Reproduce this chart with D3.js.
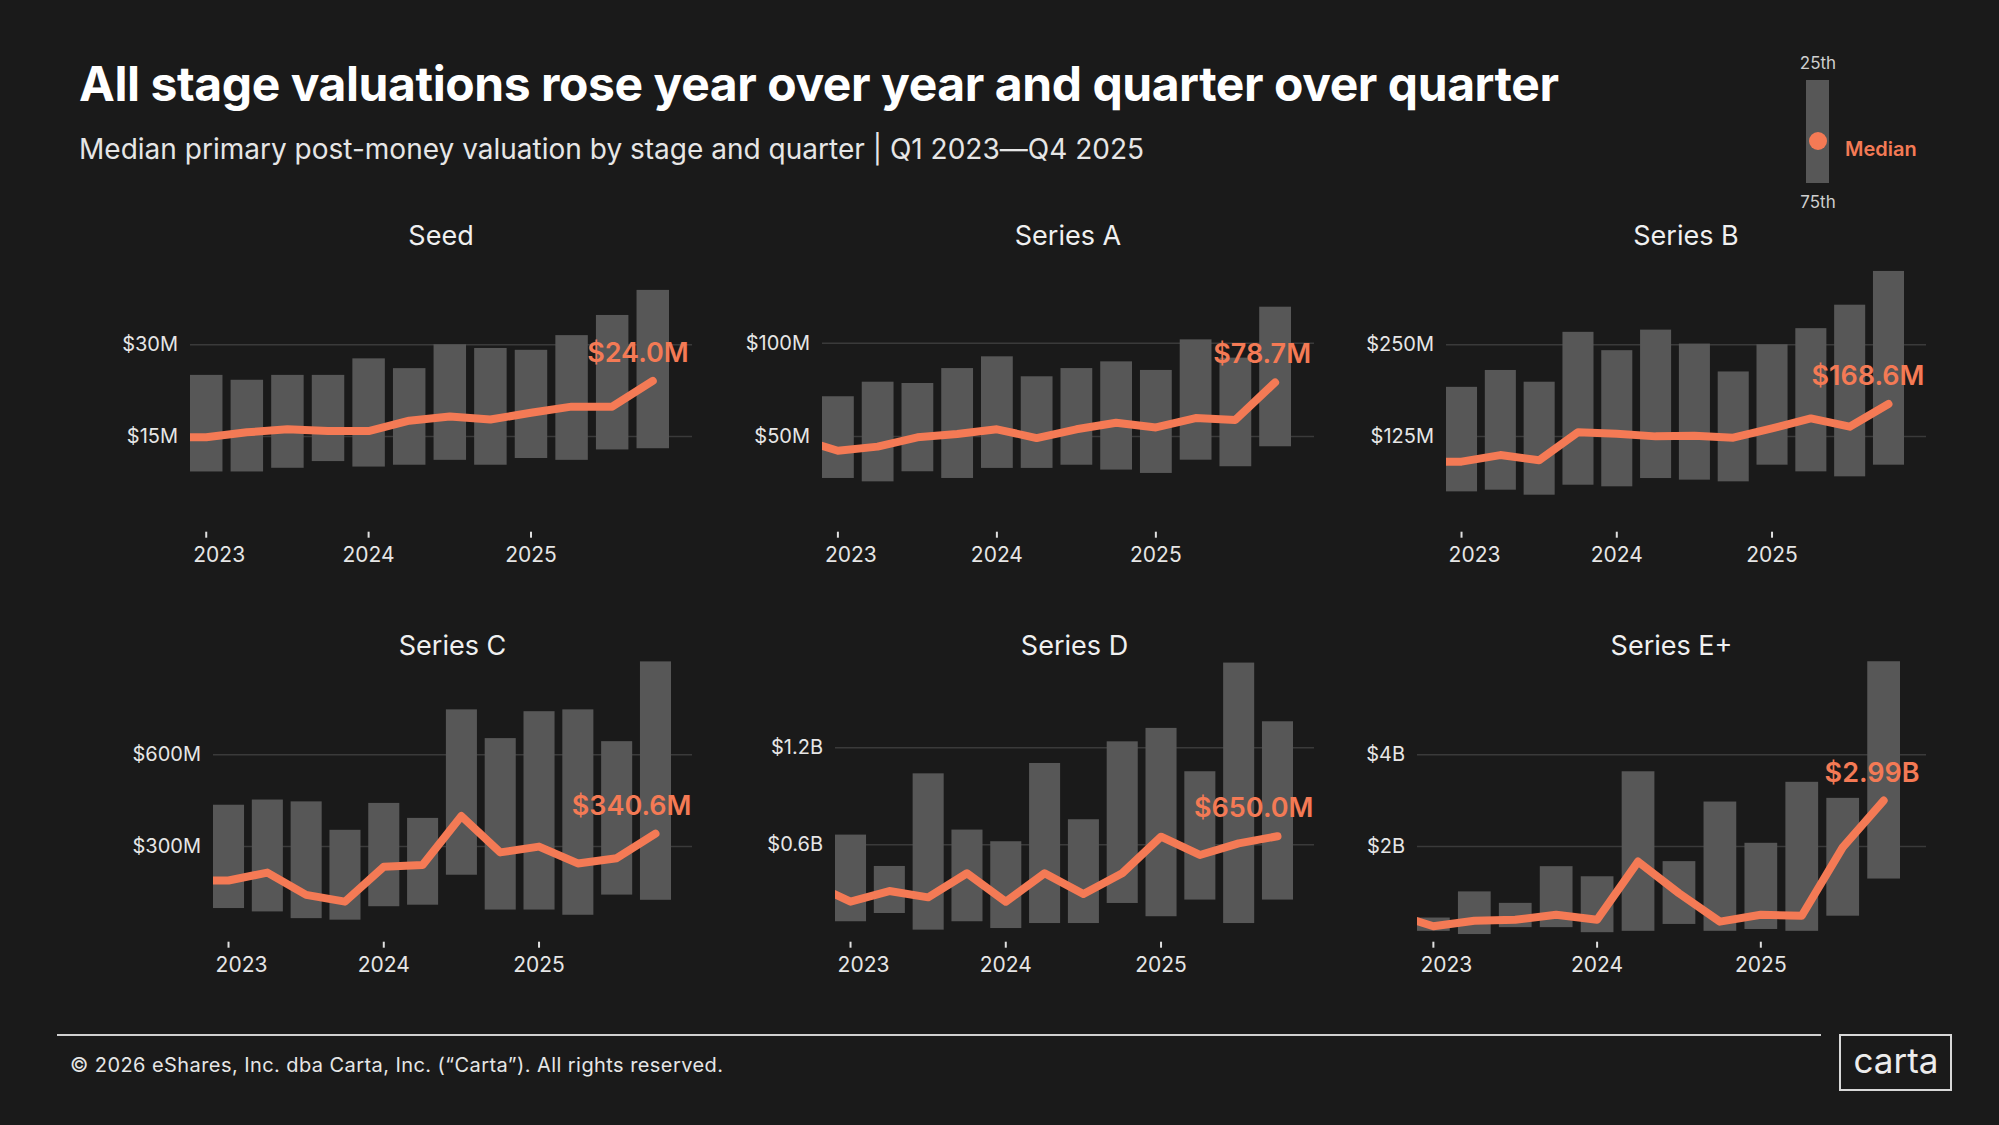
<!DOCTYPE html>
<html>
<head>
<meta charset="utf-8">
<script src="https://cdn.jsdelivr.net/npm/d3@7"></script>
<style>
  body { margin: 0; background: #1a1a1a; }
  svg { display: block; font-family: Inter, "Noto Sans", sans-serif; }
</style>
</head>
<body>
<div id="chart"></div>
<script>
//-------------------- Data --------------------
var quarters = ["Q1 2023", "Q2 2023", "Q3 2023", "Q4 2023",
    "Q1 2024", "Q2 2024", "Q3 2024", "Q4 2024",
    "Q1 2025", "Q2 2025", "Q3 2025", "Q4 2025"];
var yearTicks = ["Q1 2023", "Q1 2024", "Q1 2025"];

var stages = ["Seed", "Series A", "Series B", "Series C", "Series D", "Series E+"];
// Seed..Series C in $M, Series D and E+ in $B
var units = ["M", "M", "M", "M", "B", "B"];
var tickValues = [[15, 30], [50, 100], [125, 250], [300, 600], [0.6, 1.2], [2, 4]];
var tickLabels = [["$15M", "$30M"], ["$50M", "$100M"], ["$125M", "$250M"],
    ["$300M", "$600M"], ["$0.6B", "$1.2B"], ["$2B", "$4B"]];

// 25th percentile (upper end of the bar)
var seedHigh = [25.0, 24.2, 25.0, 25.0, 27.7, 26.1, 30.0, 29.4, 29.1, 31.5, 34.8, 38.9];
var seriesAHigh = [71.3, 79.1, 78.4, 86.4, 92.7, 82.0, 86.4, 90.0, 85.4, 101.8, 92.0, 119.3];
var seriesBHigh = [192, 215, 199, 267, 242, 270, 251, 213, 250, 272, 304, 350];
var seriesCHigh = [435, 452, 446, 353, 441, 392, 747, 653, 741, 747, 643, 904];
var seriesDHigh = [0.66, 0.466, 1.039, 0.691, 0.619, 1.103, 0.755, 1.237, 1.32, 1.052, 1.724, 1.361];
var seriesEHigh = [0.44, 1.01, 0.76, 1.56, 1.34, 3.63, 1.67, 2.97, 2.07, 3.40, 3.05, 6.03];

// 75th percentile (lower end of the bar)
var seedLow = [9.2, 9.2, 9.8, 10.9, 10.0, 10.3, 11.1, 10.3, 11.4, 11.1, 12.8, 13.0];
var seriesALow = [27.5, 25.7, 31.1, 27.5, 32.9, 32.9, 34.6, 32.0, 30.2, 37.3, 33.8, 44.5];
var seriesBLow = [49.5, 51.8, 45, 58.6, 56.4, 67.7, 65.5, 63.2, 85.9, 76.8, 70, 85.9];
var seriesCLow = [97, 86, 64, 59, 103, 108, 206, 92, 92, 75, 141, 124];
var seriesDLow = [0.124, 0.175, 0.072, 0.124, 0.082, 0.113, 0.113, 0.237, 0.155, 0.258, 0.113, 0.258];
var seriesELow = [0.15, 0.08, 0.23, 0.23, 0.12, 0.15, 0.30, 0.15, 0.19, 0.15, 0.48, 1.29];

// Medians
var seedMedian = [14.8, 15.6, 16.1, 15.8, 15.8, 17.5, 18.2, 17.7, 18.8, 19.8, 19.8, 24.0];
var seriesAMedian = [42.1, 44.3, 49.3, 51.1, 53.6, 48.9, 53.6, 57.1, 54.6, 59.6, 58.6, 78.7];
var seriesBMedian = [90, 99, 92, 130, 128, 124.5, 125.5, 122.7, 135.5, 149, 137.7, 168.6];
var seriesCMedian = [187, 213, 140, 118, 232, 238, 398, 279, 298, 243, 260, 340.6];
var seriesDMedian = [0.245, 0.311, 0.272, 0.421, 0.245, 0.421, 0.293, 0.421, 0.647, 0.534, 0.606, 0.650];
var seriesEMedian = [0.25, 0.37, 0.39, 0.50, 0.39, 1.66, 0.97, 0.35, 0.50, 0.48, 1.97, 2.99];

// Q4 2022 median, only the clipped lead-in of the line shows
var priorMedian = [14.8, 48.6, 90, 187, 0.357, 0.53];

var highs = [seedHigh, seriesAHigh, seriesBHigh, seriesCHigh, seriesDHigh, seriesEHigh];
var lows = [seedLow, seriesALow, seriesBLow, seriesCLow, seriesDLow, seriesELow];
var medians = [seedMedian, seriesAMedian, seriesBMedian, seriesCMedian, seriesDMedian, seriesEMedian];

//-------------------- Layout --------------------
// x0/x1 = bar range, gx1 = end of gridline, y0 = zero line, yT = pixel of the top tick,
// ty = title baseline, ay = top of the year ticks
var panels = [
    { x0: 190, x1: 669, gx1: 692, y0: 527.7, yT: 344.3, ty: 245, ay: 531.7 },
    { x0: 822, x1: 1291, gx1: 1314, y0: 529.3, yT: 342.7, ty: 245, ay: 531.7 },
    { x0: 1446, x1: 1904, gx1: 1926, y0: 527.7, yT: 344.3, ty: 245, ay: 531.7 },
    { x0: 213, x1: 671, gx1: 692, y0: 937.7, yT: 754.3, ty: 655, ay: 941.7 },
    { x0: 835, x1: 1293, gx1: 1314, y0: 941.3, yT: 747.3, ty: 655, ay: 941.7 },
    { x0: 1417, x1: 1900, gx1: 1926, y0: 937.7, yT: 754.3, ty: 655, ay: 941.7 }
];

var width = 1999;
var height = 1125;
var orange = "#f47a55";
var barGrey = "#575757";
var textCol = "#e6e6e6";

var svg = d3
    .select("#chart")
    .append("svg")
    .attr("width", width)
    .attr("height", height);

svg.append("rect")
    .attr("width", width)
    .attr("height", height)
    .attr("fill", "#1a1a1a");

// squeeze or stretch letter spacing so a text hits the width seen in the picture
function fitText(sel, target) {
    var n = sel.text().length;
    var natural = sel.node().getComputedTextLength();
    sel.attr("letter-spacing", ((target - natural) / (n - 1)).toFixed(3));
}

//-------------------- Header --------------------
svg.append("text")
    .attr("x", 79)
    .attr("y", 101)
    .attr("fill", "#ffffff")
    .attr("font-size", 48)
    .attr("font-weight", 700)
    .text("All stage valuations rose year over year and quarter over quarter")
    .call(fitText, 1480);

svg.append("text")
    .attr("x", 79)
    .attr("y", 159)
    .attr("fill", textCol)
    .attr("font-size", 28)
    .text("Median primary post-money valuation by stage and quarter | Q1 2023\u2014Q4 2025")
    .call(fitText, 1065);

// Legend
var legend = svg.append("g");
legend.append("rect")
    .attr("x", 1806)
    .attr("y", 80)
    .attr("width", 23)
    .attr("height", 103)
    .attr("fill", barGrey);
legend.append("circle")
    .attr("cx", 1818)
    .attr("cy", 141)
    .attr("r", 9)
    .attr("fill", orange);
legend.append("text")
    .attr("x", 1818).attr("y", 69)
    .attr("text-anchor", "middle")
    .attr("font-size", 17)
    .attr("fill", "#cfcfcf")
    .text("25th");
legend.append("text")
    .attr("x", 1818).attr("y", 208)
    .attr("text-anchor", "middle")
    .attr("font-size", 17)
    .attr("fill", "#cfcfcf")
    .text("75th");
legend.append("text")
    .attr("x", 1845).attr("y", 156)
    .attr("font-size", 20)
    .attr("font-weight", 600)
    .attr("fill", orange)
    .text("Median");

//-------------------- Panels --------------------
function fmtValue(v, unit) {
    if (unit === "B" && v < 1) return "$" + (v * 1000).toFixed(1) + "M";
    if (unit === "B") return "$" + v.toFixed(2) + "B";
    return "$" + v.toFixed(1) + "M";
}

stages.forEach(function(stage, i) {
    var p = panels[i];
    var g = svg.append("g").attr("class", "panel");

    var x = d3.scaleBand()
        .domain(quarters)
        .range([p.x0, p.x1])
        .paddingInner(0.2)
        .paddingOuter(0);

    var y = d3.scaleLinear()
        .domain([0, tickValues[i][1]])
        .range([p.y0, p.yT]);

    // Stage title
    g.append("text")
        .attr("x", (p.x0 + p.gx1) / 2)
        .attr("y", p.ty)
        .attr("text-anchor", "middle")
        .attr("font-size", 27)
        .attr("fill", "#f0f0f0")
        .text(stage);

    // Gridlines + value labels
    var yAxis = d3.axisLeft(y)
        .tickValues(tickValues[i])
        .tickFormat(function(d, k) { return tickLabels[i][k]; })
        .tickSize(-(p.gx1 - p.x0))
        .tickPadding(12);
    var ya = g.append("g")
        .attr("transform", "translate(" + p.x0 + ",0)")
        .call(yAxis);
    ya.select(".domain").remove();
    ya.selectAll(".tick line")
        .attr("stroke", "#3a3a3a")
        .attr("stroke-width", 1.5);
    ya.selectAll(".tick text")
        .attr("fill", textCol)
        .attr("font-size", 20)
        .attr("font-family", "Inter, sans-serif");

    // Interquartile bars
    g.selectAll("rect.bar")
        .data(quarters)
        .enter()
        .append("rect")
        .attr("class", "bar")
        .attr("x", function(q) { return x(q); })
        .attr("width", x.bandwidth())
        .attr("y", function(q, k) { return y(highs[i][k]); })
        .attr("height", function(q, k) { return y(lows[i][k]) - y(highs[i][k]); })
        .attr("fill", barGrey);

    // Year axis
    var xAxis = d3.axisBottom(x)
        .tickValues(yearTicks)
        .tickFormat(function(q) { return q.slice(3); })
        .tickSize(6)
        .tickPadding(9);
    var xa = g.append("g")
        .attr("transform", "translate(0," + p.ay + ")")
        .call(xAxis);
    xa.select(".domain").remove();
    xa.selectAll(".tick line")
        .attr("stroke", "#e0e0e0")
        .attr("stroke-width", 2);
    xa.selectAll(".tick text")
        .attr("fill", textCol)
        .attr("font-size", 21)
        .attr("font-family", "Inter, sans-serif")
        .attr("dx", function(d, k) { return k === 0 ? 13 : 0; });

    // Median line, lead-in from Q4 2022 clipped at the left edge
    var clipId = "clip" + i;
    svg.append("clipPath")
        .attr("id", clipId)
        .append("rect")
        .attr("x", p.x0)
        .attr("y", 0)
        .attr("width", p.gx1 - p.x0 + 40)
        .attr("height", height);

    var half = x.bandwidth() / 2;
    var pts = [[x(quarters[0]) - x.step() + half, y(priorMedian[i])]];
    quarters.forEach(function(q, k) {
        pts.push([x(q) + half, y(medians[i][k])]);
    });

    g.append("path")
        .datum(pts)
        .attr("clip-path", "url(#" + clipId + ")")
        .attr("d", d3.line())
        .attr("fill", "none")
        .attr("stroke", orange)
        .attr("stroke-width", 8)
        .attr("stroke-linejoin", "round")
        .attr("stroke-linecap", "round");

    // Latest median label
    var last = pts[pts.length - 1];
    g.append("text")
        .attr("x", last[0] + 36)
        .attr("y", last[1] - 19)
        .attr("text-anchor", "end")
        .attr("font-size", 27)
        .attr("font-weight", 600)
        .attr("fill", orange)
        .text(fmtValue(medians[i][11], units[i]));
});

//-------------------- Footer --------------------
svg.append("line")
    .attr("x1", 57).attr("x2", 1821)
    .attr("y1", 1035).attr("y2", 1035)
    .attr("stroke", "#d0d0d0")
    .attr("stroke-width", 2);

svg.append("text")
    .attr("x", 70)
    .attr("y", 1072)
    .attr("font-size", 20)
    .attr("fill", textCol)
    .text("\u00a9 2026 eShares, Inc. dba Carta, Inc. (\u201cCarta\u201d). All rights reserved.")
    .call(fitText, 653);

svg.append("rect")
    .attr("x", 1840).attr("y", 1035)
    .attr("width", 111).attr("height", 55)
    .attr("fill", "none")
    .attr("stroke", "#d8d8d8")
    .attr("stroke-width", 2);
svg.append("text")
    .attr("x", 1896).attr("y", 1073)
    .attr("text-anchor", "middle")
    .attr("font-size", 35)
    .attr("fill", "#ececec")
    .text("carta");
</script>
</body>
</html>
